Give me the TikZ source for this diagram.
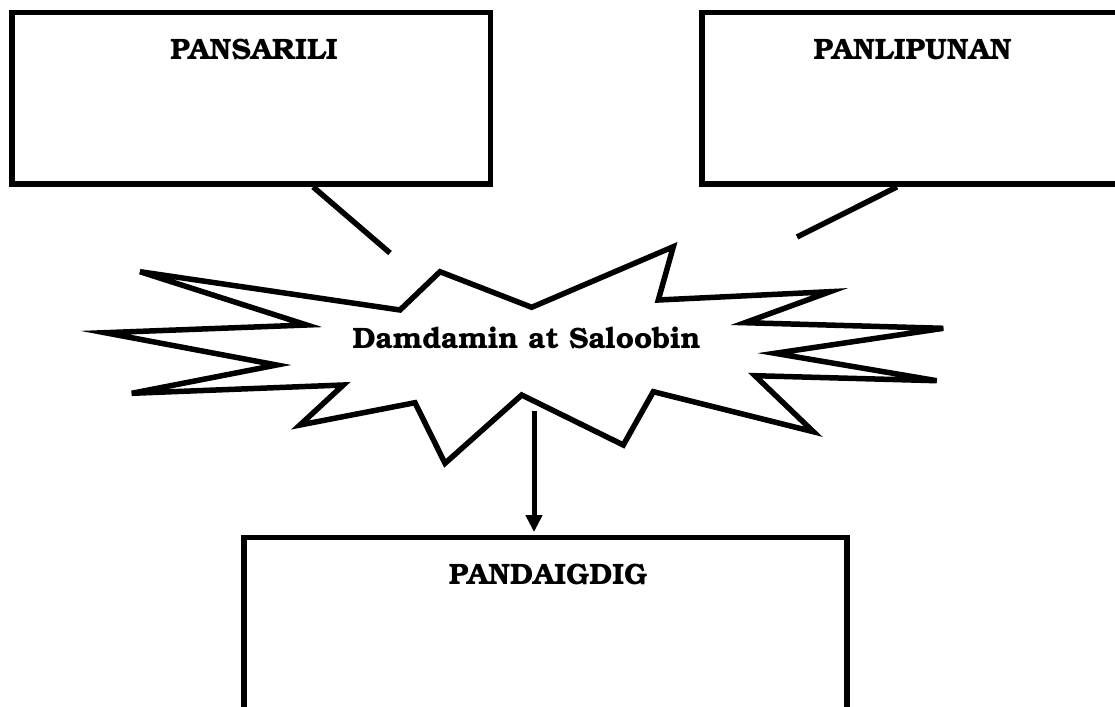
\documentclass[tikz,border=0pt]{standalone}
\usepackage[T1]{fontenc}
\usepackage{bookman}
\usetikzlibrary{arrows.meta,calc}
\begin{document}
\begin{tikzpicture}[x=1pt,y=-1pt,
  box/.style={draw,line width=5.8pt,rectangle,inner sep=0pt},
  title/.style={font=\fontsize{29.5}{35}\selectfont\bfseries,anchor=base,inner sep=0pt},
  conn/.style={line width=5.5pt},
  burst/.style={draw,line width=5.5pt,line join=miter,fill=white},
  arr/.style={line width=5pt,-{Triangle[width=16pt,length=17pt]},shorten >=2.5pt}]
\path[use as bounding box] (0,0) rectangle (1115,706);
% boxes
\node[box,minimum width=478.8pt,minimum height=171.5pt] (b1) at (251.1,98.25) {};
\node[box,minimum width=421pt,minimum height=171.5pt] (b2) at (912.5,98.25) {};
\node[box,minimum width=603pt,minimum height=200pt] (b3) at (545.5,637.5) {};
\node[title] (t1) at (254,59.5) {PANSARILI};
\node[title] (t2) at (912.7,59.5) {PANLIPUNAN};
\node[title] (t3) at (548,584) {PANDAIGDIG};
% starburst
\draw[burst] (140,271.7) -- (400,310) -- (440,271.7) -- (531.7,307.3) -- (673.3,246.7)
  -- (658.3,300) -- (830,291.7) -- (745,322.7) -- (943.3,328.3) -- (775,353.3)
  -- (936.7,380.7) -- (755,375.7) -- (813.3,431.7) -- (653.3,391.7) -- (623.3,445)
  -- (521.7,395) -- (445,463.3) -- (415,402.7) -- (300,425) -- (343.3,385)
  -- (131.7,393.3) -- (276.7,365) -- (105,332.7) -- (306.7,325) -- cycle;
\node[title] (c) at (526.7,348.3) {Damdamin at Saloobin};
% connectors
\coordinate (l1) at (390,253);
\coordinate (l2) at (797,237);
\coordinate (a0) at (534,411);
\draw[conn] ([xshift=62pt]b1.south) -- (l1);
\draw[conn] ([xshift=-15.5pt]b2.south) -- (l2);
\draw[arr] (a0) -- ([xshift=-11.5pt]b3.north);
\end{tikzpicture}
\end{document}
